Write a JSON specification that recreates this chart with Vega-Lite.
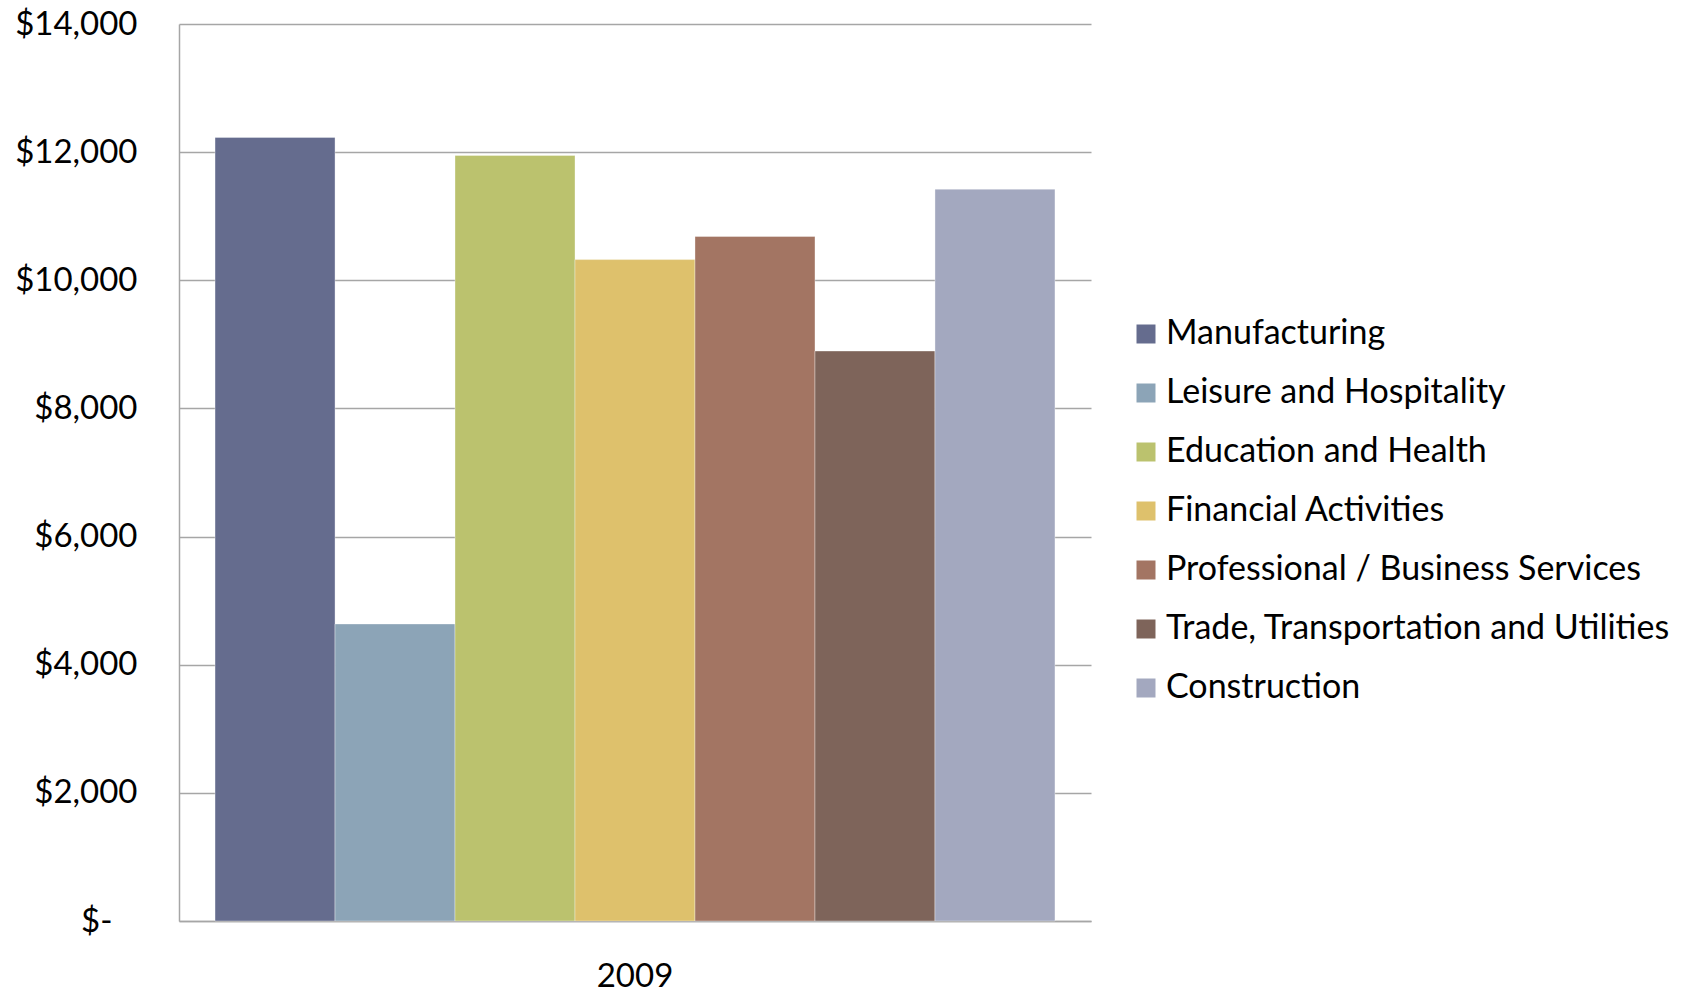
{
  "$schema": "https://vega.github.io/schema/vega-lite/v6.json",
  "width": 912,
  "height": 897,
  "autosize": {"type": "none"},
  "padding": {"left": 179, "top": 24, "right": 601, "bottom": 72},
  "background": "white",
  "config": {
    "view": {"stroke": null},
    "font": "Lato"
  },
  "data": {
    "values": [
      {"year": "2009", "industry": "Manufacturing", "value": 12230},
      {"year": "2009", "industry": "Leisure and Hospitality", "value": 4636},
      {"year": "2009", "industry": "Education and Health", "value": 11948},
      {"year": "2009", "industry": "Financial Activities", "value": 10323},
      {"year": "2009", "industry": "Professional / Business Services", "value": 10683},
      {"year": "2009", "industry": "Trade, Transportation and Utilities", "value": 8896},
      {"year": "2009", "industry": "Construction", "value": 11422}
    ]
  },
  "mark": {"type": "bar", "stroke": "#ffffff", "strokeOpacity": 0.35, "strokeWidth": 1},
  "encoding": {
    "x": {
      "field": "year",
      "type": "nominal",
      "title": null,
      "scale": {"paddingInner": 0, "paddingOuter": 0.0429},
      "axis": {
        "labelAngle": 0,
        "labelFontSize": 33,
        "labelColor": "#000000",
        "labelPadding": 39,
        "ticks": false,
        "domainColor": "#a6a6a6",
        "domainWidth": 1.5,
        "grid": false
      }
    },
    "xOffset": {
      "field": "industry",
      "type": "nominal",
      "sort": ["Manufacturing", "Leisure and Hospitality", "Education and Health", "Financial Activities", "Professional / Business Services", "Trade, Transportation and Utilities", "Construction"],
      "scale": {"paddingInner": 0, "paddingOuter": 0}
    },
    "y": {
      "field": "value",
      "type": "quantitative",
      "title": null,
      "scale": {"domain": [0, 14000], "nice": false},
      "axis": {
        "values": [0, 2000, 4000, 6000, 8000, 10000, 12000, 14000],
        "labelExpr": "datum.value == 0 ? '$-' : '$' + format(datum.value, ',')",
        "labelFontSize": 33,
        "labelColor": "#000000",
        "labelPadding": {"condition": {"test": "datum.value == 0", "value": 67}, "value": 42},
        "ticks": false,
        "domainColor": "#a6a6a6",
        "domainWidth": 1.5,
        "gridColor": "#a6a6a6",
        "gridWidth": 1.5
      }
    },
    "color": {
      "field": "industry",
      "type": "nominal",
      "sort": ["Manufacturing", "Leisure and Hospitality", "Education and Health", "Financial Activities", "Professional / Business Services", "Trade, Transportation and Utilities", "Construction"],
      "scale": {
        "domain": ["Manufacturing", "Leisure and Hospitality", "Education and Health", "Financial Activities", "Professional / Business Services", "Trade, Transportation and Utilities", "Construction"],
        "range": ["#656c8e", "#8ca4b7", "#bbc26e", "#dec16c", "#a37563", "#7e645a", "#a3a8bf"]
      },
      "legend": {
        "title": null,
        "orient": "none",
        "legendX": 950,
        "legendY": 293,
        "padding": 0,
        "symbolType": "square",
        "symbolSize": 361,
        "symbolStrokeWidth": 0,
        "labelFontSize": 34,
        "labelColor": "#000000",
        "labelOffset": 3,
        "labelLimit": 700,
        "rowPadding": 25
      }
    }
  }
}
